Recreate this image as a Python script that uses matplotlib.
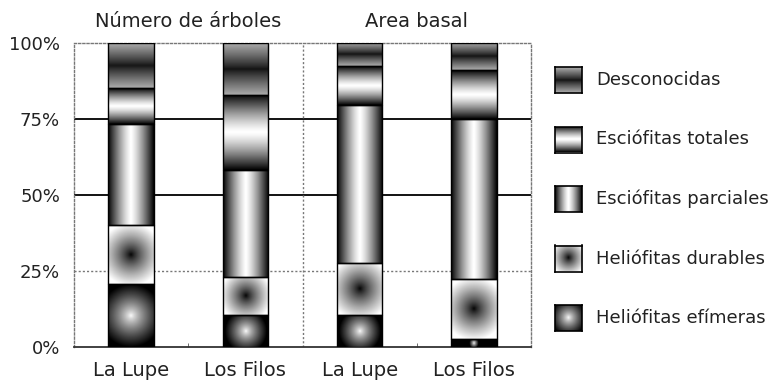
import numpy as np
import matplotlib
matplotlib.use("Agg")
import matplotlib.pyplot as plt

plt.rcParams['font.family'] = ['DejaVu Sans']

# categories and groups
bars = ["La Lupe", "Los Filos", "La Lupe", "Los Filos"]
groups = ["Número de árboles", "Area basal"]

# percentages, bottom to top
efimeras = [20.7, 10.5, 10.5, 2.5]
durables = [19.4, 12.6, 17.2, 19.9]
parciales = [33.3, 35.1, 51.9, 52.6]
totales = [11.8, 24.7, 12.8, 16.1]
desconocidas = [14.8, 17.1, 7.6, 8.9]

series = [efimeras, durables, parciales, totales, desconocidas]
series_names = ["Heliófitas efímeras", "Heliófitas durables", "Esciófitas parciales",
                "Esciófitas totales", "Desconocidas"]
series_kind = ["radial_out", "radial_in", "horiz", "vert_light", "vert_dark"]
yticklabels = ["0%", "25%", "50%", "75%", "100%"]


def gradient(kind, w, h):
    """grayscale gradient image of w x h pixels, 0 black 1 white"""
    xs = (np.arange(w) + 0.5) / w
    ys = (np.arange(h) + 0.5) / h
    X, Y = np.meshgrid(xs, ys)
    if kind == "horiz":
        v = 1 - np.abs(2 * X - 1) ** 1.3
    elif kind == "vert_light":
        v = 1 - np.abs(2 * Y - 1) ** 1.3
    elif kind == "vert_dark":
        v = 0.6 * np.abs(2 * Y - 1) ** 0.9 + 0.08
    else:
        px = (X - 0.5) * w
        py = (Y - 0.5) * h
        r = np.sqrt(px ** 2 + py ** 2) / (0.5 * min(w, h) * 1.35)
        r = np.clip(r, 0, 1)
        if kind == "radial_in":
            v = r ** 0.8
        else:
            v = 1 - r ** 0.8
    return np.clip(v, 0, 1)


fig = plt.figure(figsize=(7.81, 3.81), dpi=100)
ax = fig.add_axes([74 / 781, 1 - 347 / 381, 457 / 781, 304 / 381])

x = np.arange(len(bars))
bottom = np.zeros(len(bars))
for vals, kind in zip(series, series_kind):
    cont = ax.bar(x, vals, width=0.4, bottom=bottom, facecolor="none",
                  edgecolor="black", linewidth=1, zorder=4)
    for patch in cont.patches:
        x0, y0 = patch.get_x(), patch.get_y()
        w, h = patch.get_width(), patch.get_height()
        img = gradient(kind, 46, max(int(h * 3.04), 2))
        im = ax.imshow(img, cmap="gray", vmin=0, vmax=1, origin="upper",
                       extent=[x0, x0 + w, y0, y0 + h], aspect="auto",
                       interpolation="bilinear", zorder=3)
        im.set_clip_path(patch)
    bottom += np.array(vals)

ax.set_xlim(-0.5, 3.5)
ax.set_ylim(0, 100)

# grid lines
ax.axhline(75, color="black", lw=1.3, zorder=1)
ax.axhline(50, color="black", lw=1.3, zorder=1)
ax.axhline(25, color="#777777", lw=1.0, ls=(0, (1.5, 1.5)), zorder=1)
ax.axvline(1.5, color="#777777", lw=1.0, ls=(0, (1.5, 1.5)), zorder=1)

for side in ["left", "right", "top"]:
    ax.spines[side].set_color("#777777")
    ax.spines[side].set_linestyle((0, (1.5, 1.5)))
    ax.spines[side].set_linewidth(1.0)
ax.spines["bottom"].set_color("#333333")
ax.spines["bottom"].set_linewidth(1.3)

ax.set_yticks([0, 25, 50, 75, 100])
ax.set_yticklabels(yticklabels, fontsize=13, color="#222222")
ax.tick_params(axis="y", length=0, pad=10)
ax.set_xticks(x)
ax.set_xticklabels(bars, fontsize=14, color="#222222")
ax.tick_params(axis="x", length=0, pad=10)
ax.set_xticks([0.5, 2.5], minor=True)
ax.tick_params(axis="x", which="minor", direction="in", length=3, color="#555555")

# group titles
ax.text(0.5, 104, groups[0], ha="center", va="bottom", fontsize=14, color="#222222")
ax.text(2.5, 104, groups[1], ha="center", va="bottom", fontsize=14, color="#222222")

# legend, top to bottom
for i, (name, kind) in enumerate(zip(series_names[::-1], series_kind[::-1])):
    yc = 80 + i * 59.5
    lax = fig.add_axes([555 / 781, 1 - (yc + 13) / 381, 27 / 781, 26 / 381])
    lax.imshow(gradient(kind, 27, 26), cmap="gray", vmin=0, vmax=1,
               interpolation="bilinear", aspect="auto")
    lax.set_xticks([])
    lax.set_yticks([])
    for s in lax.spines.values():
        s.set_color("black")
        s.set_linewidth(1.2)
    fig.text(596 / 781, 1 - yc / 381, name, ha="left", va="center",
             fontsize=13, color="#222222")

fig.savefig("out.png", dpi=100)
